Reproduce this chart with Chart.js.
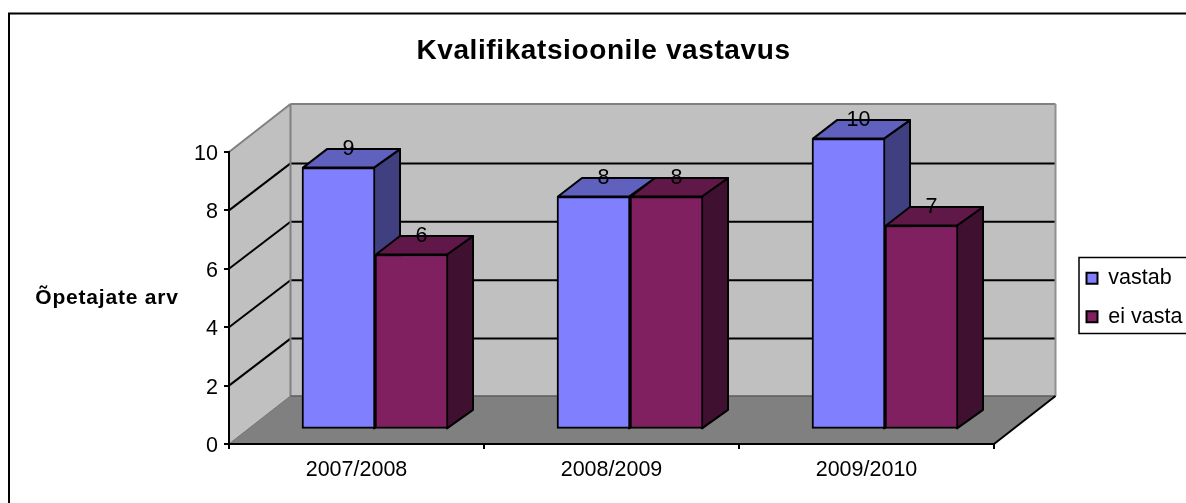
<!DOCTYPE html>
<html>
<head>
<meta charset="utf-8">
<style>
  html, body { margin: 0; background: #fff; }
  canvas { display: block; }
</style>
<script src="https://cdn.jsdelivr.net/npm/chart.js@4/dist/chart.umd.js"></script>
</head>
<body>
<canvas id="c" width="1186" height="503"></canvas>
<script>
const chartTitle = 'Kvalifikatsioonile vastavus';
const yAxisTitle = 'Õpetajate arv';
const categories = ['2007/2008', '2008/2009', '2009/2010'];
const vastab = [9, 8, 10];
const eiVasta = [6, 8, 7];

const FONT = '"Liberation Sans", Arial, sans-serif';
const TEXT_SIZE = 21.5;

// seina sügavus ja tulba sügavus (3D nihe pikslites)
const WALL_DX = 61.5, WALL_DY = 48;
const BAR_DX = 25, BAR_DY = 18.5, BAR_SHIFT = 18.5;

function poly(ctx, pts, fill, stroke, lw) {
  ctx.beginPath();
  pts.forEach((p, i) => (i ? ctx.lineTo(p[0], p[1]) : ctx.moveTo(p[0], p[1])));
  ctx.closePath();
  if (fill) { ctx.fillStyle = fill; ctx.fill(); }
  if (stroke) { ctx.strokeStyle = stroke; ctx.lineWidth = lw; ctx.lineJoin = 'round'; ctx.stroke(); }
}

function line(ctx, x1, y1, x2, y2, color, lw) {
  ctx.beginPath();
  ctx.moveTo(x1, y1);
  ctx.lineTo(x2, y2);
  ctx.strokeStyle = color;
  ctx.lineWidth = lw;
  ctx.stroke();
}

const box3d = {
  id: 'box3d',
  afterLayout(chart) {
    // legend ja pealkiri ei järgi joonise ala, paigutame käsitsi
    const lg = chart.legend;
    lg.left = 1069.5; lg.right = 1186; lg.top = 250.5; lg.bottom = 503;
    const tb = chart.titleBlock;
    tb.left = 0; tb.right = 1207;
    if (!tb.spaced) {
      const draw = tb.draw.bind(tb);
      tb.draw = (area) => {
        chart.ctx.letterSpacing = '0.6px';
        draw(area);
        chart.ctx.letterSpacing = '0px';
      };
      tb.spaced = true;
    }
  },
  beforeDraw(chart) {
    const { ctx } = chart;
    const x = chart.scales.x, y = chart.scales.y;
    const L = x.left, R = x.right, T = y.getPixelForValue(10), B = y.getPixelForValue(0);
    ctx.save();
    // välimine raam
    ctx.strokeStyle = '#000';
    ctx.lineWidth = 2;
    ctx.strokeRect(9, 13.5, 1300, 600);
    // legendi kast
    ctx.lineWidth = 1.5;
    ctx.strokeRect(1079, 257.5, 200, 76);
    // seinad ja põrand
    poly(ctx, [[L + WALL_DX, T - WALL_DY], [R + WALL_DX, T - WALL_DY], [R + WALL_DX, B - WALL_DY], [L + WALL_DX, B - WALL_DY]], '#c0c0c0');
    poly(ctx, [[L, T], [L + WALL_DX, T - WALL_DY], [L + WALL_DX, B - WALL_DY], [L, B]], '#c0c0c0');
    poly(ctx, [[L, B], [L + WALL_DX, B - WALL_DY], [R + WALL_DX, B - WALL_DY], [R, B]], '#808080');
    y.ticks.forEach((t) => {
      const py = y.getPixelForValue(t.value);
      if (t.value === 0 || t.value === 10) return;
      line(ctx, L, py, L + WALL_DX, py - WALL_DY + 1, '#000', 2);
      line(ctx, L + WALL_DX, py - WALL_DY + 1, R + WALL_DX, py - WALL_DY + 1, '#000', 2);
    });
    line(ctx, L, T, L + WALL_DX, T - WALL_DY, '#808080', 2);
    line(ctx, L + WALL_DX, T - WALL_DY, R + WALL_DX, T - WALL_DY, '#808080', 2);
    line(ctx, L + WALL_DX, T - WALL_DY, L + WALL_DX, B - WALL_DY, '#808080', 2);
    line(ctx, R + WALL_DX, T - WALL_DY, R + WALL_DX, B - WALL_DY, '#909090', 2);
    line(ctx, L + WALL_DX, B - WALL_DY, R + WALL_DX, B - WALL_DY, '#5c5c5c', 1.5);
    line(ctx, L, B, L + WALL_DX, B - WALL_DY, '#707070', 1);
    line(ctx, R, B, R + WALL_DX, B - WALL_DY, '#000', 2);
    ctx.restore();
  },
  beforeDatasetsDraw(chart) {
    const { ctx } = chart;
    ctx.save();
    ctx.translate(BAR_SHIFT, 0);
    // külg- ja pealispinnad enne tulpade esikülgi
    chart.data.datasets.forEach((ds, di) => {
      chart.getDatasetMeta(di).data.forEach((bar) => {
        const l = bar.x - bar.width / 2, r = bar.x + bar.width / 2, t = bar.y, b = bar.base;
        const eps = 1;
        poly(ctx, [[r - eps, t], [r + BAR_DX, t - BAR_DY], [r + BAR_DX, b - BAR_DY], [r - eps, b]], ds.sideColor, '#000', 2);
        poly(ctx, [[l + eps, t], [l + BAR_DX, t - BAR_DY], [r + BAR_DX, t - BAR_DY], [r - eps, t]], ds.topColor, '#000', 2);
      });
    });
  },
  afterDatasetsDraw(chart) {
    const { ctx } = chart;
    ctx.font = TEXT_SIZE + 'px ' + FONT;
    ctx.fillStyle = '#000';
    ctx.textAlign = 'center';
    ctx.textBaseline = 'middle';
    chart.data.datasets.forEach((ds, di) => {
      chart.getDatasetMeta(di).data.forEach((bar, i) => {
        ctx.fillText(String(ds.data[i]), bar.x + 10, bar.y - 18.5);
      });
    });
    ctx.restore();
  },
  afterDraw(chart) {
    const { ctx } = chart;
    ctx.save();
    ctx.font = 'bold 21px ' + FONT;
    ctx.fillStyle = '#000';
    ctx.textAlign = 'center';
    ctx.textBaseline = 'middle';
    ctx.letterSpacing = '0.8px';
    ctx.fillText(yAxisTitle, 107, 298);
    ctx.restore();
  },
};

new Chart(document.getElementById('c'), {
  type: 'bar',
  data: {
    labels: categories,
    datasets: [
      { label: 'vastab', data: vastab, yAxisID: 'yBar', clip: false, backgroundColor: '#8080ff', borderColor: '#000', borderWidth: 2, borderSkipped: false, topColor: '#6060bf', sideColor: '#404080' },
      { label: 'ei vasta', data: eiVasta, yAxisID: 'yBar', clip: false, backgroundColor: '#802060', borderColor: '#000', borderWidth: 2, borderSkipped: false, topColor: '#601848', sideColor: '#401030' },
    ],
  },
  options: {
    responsive: false,
    animation: false,
    devicePixelRatio: 1,
    layout: { padding: { left: 0, right: 192, top: 0, bottom: 0 } },
    datasets: { bar: { barThickness: 73 } },
    scales: {
      x: {
        grid: { drawOnChartArea: false, color: '#000', lineWidth: 2, tickLength: 5 },
        border: { color: '#000', width: 2 },
        ticks: { color: '#000', font: { family: FONT, size: TEXT_SIZE }, padding: 8 },
        afterFit(s) { s.height = 59; },
      },
      y: {
        min: 0, max: 10,
        grid: { drawOnChartArea: false, color: '#000', lineWidth: 2, tickLength: 5 },
        border: { color: '#000', width: 2 },
        ticks: { color: '#000', font: { family: FONT, size: TEXT_SIZE }, stepSize: 2, padding: 6, labelOffset: 2 },
        afterFit(s) { s.width = 229; },
      },
      // tulbad seisavad põranda keskel, mitte esiserval
      yBar: { display: false, min: -0.541, max: 9.538 },
    },
    plugins: {
      tooltip: { enabled: false },
      title: {
        display: true,
        text: chartTitle,
        color: '#000',
        font: { family: FONT, size: 28, weight: 'bold' },
        padding: { top: 34, bottom: 84.4 },
      },
      legend: {
        position: 'chartArea',
        align: 'start',
        labels: { color: '#000', font: { family: FONT, size: TEXT_SIZE }, boxWidth: 11, boxHeight: 11, padding: 17 },
      },
    },
  },
  plugins: [box3d],
});
</script>
</body>
</html>
